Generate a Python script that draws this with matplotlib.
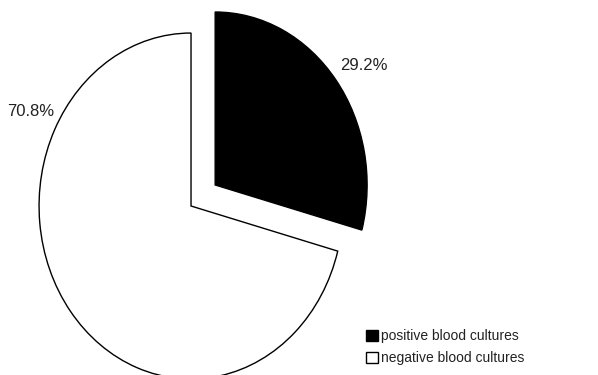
import matplotlib
matplotlib.use('Agg')
import matplotlib.pyplot as plt

plt.rcParams['font.family'] = ['Liberation Sans', 'DejaVu Sans']

labels = ['positive blood cultures', 'negative blood cultures']
shares = [29.2, 70.8]
colors = ['black', 'white']

fig = plt.figure(figsize=(5.98, 3.75), dpi=100)
ax = fig.add_axes([0, 0, 1, 1])

wedges, _ = ax.pie(shares, explode=[0.2, 0], startangle=90, counterclock=False,
                   colors=colors, wedgeprops=dict(edgecolor='black', linewidth=1.0))

# stretched (non-circular) pie, as in the printed figure
ax.set_aspect('auto')
ax.set_xlim(-1.257, 2.678)
ax.set_ylim(-0.977, 1.191)
ax.axis('off')

# percentage labels
ax.text(1.138, 0.815, '{:.1f}%'.format(shares[0]), fontsize=12, ha='center', va='center', color='#222222')
ax.text(-1.053, 0.549, '{:.1f}%'.format(shares[1]), fontsize=12, ha='center', va='center', color='#222222')

ax.legend(wedges, labels, frameon=False, loc='lower right', bbox_to_anchor=(0.893, 0.0),
          fontsize=10, handlelength=0.85, handleheight=0.85, handletextpad=0.2,
          labelspacing=0.6, borderaxespad=0.3, labelcolor='#222222')

fig.savefig('out.png', dpi=100, facecolor='white')
